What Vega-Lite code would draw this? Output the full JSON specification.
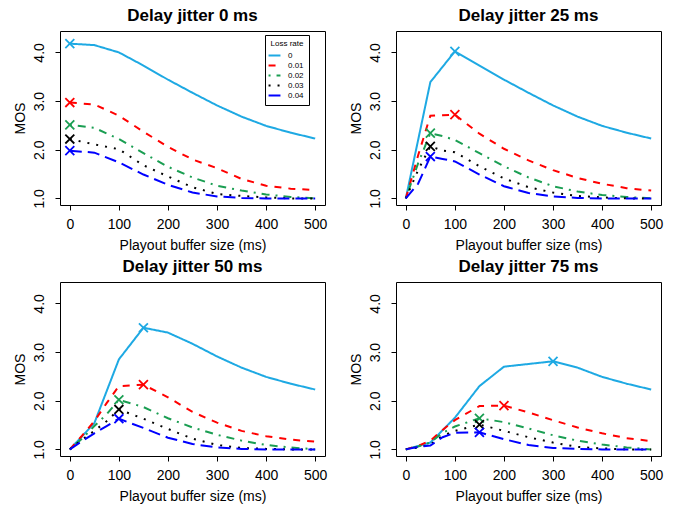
{
  "$schema": "https://vega.github.io/schema/vega-lite/v6.json",
  "padding": {"left": 12, "top": 6, "right": 5, "bottom": 5},
  "background": "white",
  "data": {"values": [
    {"j":0,"loss":"0","x":0,"mos":4.18},{"j":0,"loss":"0","x":50,"mos":4.15},{"j":0,"loss":"0","x":100,"mos":4.00},{"j":0,"loss":"0","x":150,"mos":3.73},{"j":0,"loss":"0","x":200,"mos":3.44},{"j":0,"loss":"0","x":250,"mos":3.17},{"j":0,"loss":"0","x":300,"mos":2.91},{"j":0,"loss":"0","x":350,"mos":2.68},{"j":0,"loss":"0","x":400,"mos":2.49},{"j":0,"loss":"0","x":450,"mos":2.35},{"j":0,"loss":"0","x":500,"mos":2.23},
    {"j":0,"loss":"0.01","x":0,"mos":2.97},{"j":0,"loss":"0.01","x":50,"mos":2.93},{"j":0,"loss":"0.01","x":100,"mos":2.70},{"j":0,"loss":"0.01","x":150,"mos":2.37},{"j":0,"loss":"0.01","x":200,"mos":2.06},{"j":0,"loss":"0.01","x":250,"mos":1.80},{"j":0,"loss":"0.01","x":300,"mos":1.62},{"j":0,"loss":"0.01","x":350,"mos":1.40},{"j":0,"loss":"0.01","x":400,"mos":1.26},{"j":0,"loss":"0.01","x":450,"mos":1.20},{"j":0,"loss":"0.01","x":500,"mos":1.17},
    {"j":0,"loss":"0.02","x":0,"mos":2.51},{"j":0,"loss":"0.02","x":50,"mos":2.45},{"j":0,"loss":"0.02","x":100,"mos":2.22},{"j":0,"loss":"0.02","x":150,"mos":1.93},{"j":0,"loss":"0.02","x":200,"mos":1.65},{"j":0,"loss":"0.02","x":250,"mos":1.43},{"j":0,"loss":"0.02","x":300,"mos":1.26},{"j":0,"loss":"0.02","x":350,"mos":1.16},{"j":0,"loss":"0.02","x":400,"mos":1.08},{"j":0,"loss":"0.02","x":450,"mos":1.03},{"j":0,"loss":"0.02","x":500,"mos":1.00},
    {"j":0,"loss":"0.03","x":0,"mos":2.22},{"j":0,"loss":"0.03","x":50,"mos":2.11},{"j":0,"loss":"0.03","x":100,"mos":2.01},{"j":0,"loss":"0.03","x":150,"mos":1.68},{"j":0,"loss":"0.03","x":200,"mos":1.45},{"j":0,"loss":"0.03","x":250,"mos":1.23},{"j":0,"loss":"0.03","x":300,"mos":1.09},{"j":0,"loss":"0.03","x":350,"mos":1.05},{"j":0,"loss":"0.03","x":400,"mos":1.02},{"j":0,"loss":"0.03","x":450,"mos":1.00},{"j":0,"loss":"0.03","x":500,"mos":1.00},
    {"j":0,"loss":"0.04","x":0,"mos":1.98},{"j":0,"loss":"0.04","x":50,"mos":1.94},{"j":0,"loss":"0.04","x":100,"mos":1.74},{"j":0,"loss":"0.04","x":150,"mos":1.49},{"j":0,"loss":"0.04","x":200,"mos":1.28},{"j":0,"loss":"0.04","x":250,"mos":1.12},{"j":0,"loss":"0.04","x":300,"mos":1.04},{"j":0,"loss":"0.04","x":350,"mos":1.01},{"j":0,"loss":"0.04","x":400,"mos":1.00},{"j":0,"loss":"0.04","x":450,"mos":1.00},{"j":0,"loss":"0.04","x":500,"mos":1.00},

    {"j":25,"loss":"0","x":0,"mos":1.00},{"j":25,"loss":"0","x":50,"mos":3.39},{"j":25,"loss":"0","x":100,"mos":4.02},{"j":25,"loss":"0","x":150,"mos":3.73},{"j":25,"loss":"0","x":200,"mos":3.44},{"j":25,"loss":"0","x":250,"mos":3.17},{"j":25,"loss":"0","x":300,"mos":2.91},{"j":25,"loss":"0","x":350,"mos":2.68},{"j":25,"loss":"0","x":400,"mos":2.49},{"j":25,"loss":"0","x":450,"mos":2.35},{"j":25,"loss":"0","x":500,"mos":2.23},
    {"j":25,"loss":"0.01","x":0,"mos":1.00},{"j":25,"loss":"0.01","x":25,"mos":1.88},{"j":25,"loss":"0.01","x":50,"mos":2.70},{"j":25,"loss":"0.01","x":75,"mos":2.71},{"j":25,"loss":"0.01","x":100,"mos":2.72},{"j":25,"loss":"0.01","x":150,"mos":2.33},{"j":25,"loss":"0.01","x":200,"mos":2.02},{"j":25,"loss":"0.01","x":250,"mos":1.78},{"j":25,"loss":"0.01","x":300,"mos":1.58},{"j":25,"loss":"0.01","x":350,"mos":1.42},{"j":25,"loss":"0.01","x":400,"mos":1.30},{"j":25,"loss":"0.01","x":450,"mos":1.21},{"j":25,"loss":"0.01","x":500,"mos":1.16},
    {"j":25,"loss":"0.02","x":0,"mos":1.00},{"j":25,"loss":"0.02","x":25,"mos":1.72},{"j":25,"loss":"0.02","x":50,"mos":2.34},{"j":25,"loss":"0.02","x":75,"mos":2.28},{"j":25,"loss":"0.02","x":100,"mos":2.20},{"j":25,"loss":"0.02","x":150,"mos":1.93},{"j":25,"loss":"0.02","x":200,"mos":1.66},{"j":25,"loss":"0.02","x":250,"mos":1.43},{"j":25,"loss":"0.02","x":300,"mos":1.25},{"j":25,"loss":"0.02","x":350,"mos":1.14},{"j":25,"loss":"0.02","x":400,"mos":1.07},{"j":25,"loss":"0.02","x":450,"mos":1.03},{"j":25,"loss":"0.02","x":500,"mos":1.00},
    {"j":25,"loss":"0.03","x":0,"mos":1.00},{"j":25,"loss":"0.03","x":25,"mos":1.58},{"j":25,"loss":"0.03","x":50,"mos":2.07},{"j":25,"loss":"0.03","x":75,"mos":1.98},{"j":25,"loss":"0.03","x":100,"mos":1.95},{"j":25,"loss":"0.03","x":150,"mos":1.66},{"j":25,"loss":"0.03","x":200,"mos":1.41},{"j":25,"loss":"0.03","x":250,"mos":1.23},{"j":25,"loss":"0.03","x":300,"mos":1.12},{"j":25,"loss":"0.03","x":350,"mos":1.05},{"j":25,"loss":"0.03","x":400,"mos":1.02},{"j":25,"loss":"0.03","x":450,"mos":1.00},{"j":25,"loss":"0.03","x":500,"mos":1.00},
    {"j":25,"loss":"0.04","x":0,"mos":1.00},{"j":25,"loss":"0.04","x":25,"mos":1.30},{"j":25,"loss":"0.04","x":50,"mos":1.86},{"j":25,"loss":"0.04","x":75,"mos":1.81},{"j":25,"loss":"0.04","x":100,"mos":1.76},{"j":25,"loss":"0.04","x":150,"mos":1.49},{"j":25,"loss":"0.04","x":200,"mos":1.25},{"j":25,"loss":"0.04","x":250,"mos":1.11},{"j":25,"loss":"0.04","x":300,"mos":1.04},{"j":25,"loss":"0.04","x":350,"mos":1.01},{"j":25,"loss":"0.04","x":400,"mos":1.00},{"j":25,"loss":"0.04","x":450,"mos":1.00},{"j":25,"loss":"0.04","x":500,"mos":1.00},

    {"j":50,"loss":"0","x":0,"mos":1.00},{"j":50,"loss":"0","x":50,"mos":1.54},{"j":50,"loss":"0","x":100,"mos":2.85},{"j":50,"loss":"0","x":150,"mos":3.50},{"j":50,"loss":"0","x":200,"mos":3.40},{"j":50,"loss":"0","x":250,"mos":3.17},{"j":50,"loss":"0","x":300,"mos":2.91},{"j":50,"loss":"0","x":350,"mos":2.68},{"j":50,"loss":"0","x":400,"mos":2.49},{"j":50,"loss":"0","x":450,"mos":2.35},{"j":50,"loss":"0","x":500,"mos":2.23},
    {"j":50,"loss":"0.01","x":0,"mos":1.00},{"j":50,"loss":"0.01","x":25,"mos":1.28},{"j":50,"loss":"0.01","x":50,"mos":1.58},{"j":50,"loss":"0.01","x":75,"mos":1.95},{"j":50,"loss":"0.01","x":100,"mos":2.30},{"j":50,"loss":"0.01","x":150,"mos":2.33},{"j":50,"loss":"0.01","x":200,"mos":2.07},{"j":50,"loss":"0.01","x":250,"mos":1.77},{"j":50,"loss":"0.01","x":300,"mos":1.55},{"j":50,"loss":"0.01","x":350,"mos":1.38},{"j":50,"loss":"0.01","x":400,"mos":1.27},{"j":50,"loss":"0.01","x":450,"mos":1.20},{"j":50,"loss":"0.01","x":500,"mos":1.16},
    {"j":50,"loss":"0.02","x":0,"mos":1.00},{"j":50,"loss":"0.02","x":25,"mos":1.22},{"j":50,"loss":"0.02","x":50,"mos":1.48},{"j":50,"loss":"0.02","x":75,"mos":1.72},{"j":50,"loss":"0.02","x":100,"mos":2.02},{"j":50,"loss":"0.02","x":150,"mos":1.87},{"j":50,"loss":"0.02","x":200,"mos":1.64},{"j":50,"loss":"0.02","x":250,"mos":1.45},{"j":50,"loss":"0.02","x":300,"mos":1.30},{"j":50,"loss":"0.02","x":350,"mos":1.18},{"j":50,"loss":"0.02","x":400,"mos":1.09},{"j":50,"loss":"0.02","x":450,"mos":1.04},{"j":50,"loss":"0.02","x":500,"mos":1.00},
    {"j":50,"loss":"0.03","x":0,"mos":1.00},{"j":50,"loss":"0.03","x":25,"mos":1.20},{"j":50,"loss":"0.03","x":50,"mos":1.38},{"j":50,"loss":"0.03","x":75,"mos":1.58},{"j":50,"loss":"0.03","x":100,"mos":1.82},{"j":50,"loss":"0.03","x":150,"mos":1.63},{"j":50,"loss":"0.03","x":200,"mos":1.42},{"j":50,"loss":"0.03","x":250,"mos":1.22},{"j":50,"loss":"0.03","x":300,"mos":1.09},{"j":50,"loss":"0.03","x":350,"mos":1.03},{"j":50,"loss":"0.03","x":400,"mos":1.01},{"j":50,"loss":"0.03","x":450,"mos":1.00},{"j":50,"loss":"0.03","x":500,"mos":1.00},
    {"j":50,"loss":"0.04","x":0,"mos":1.00},{"j":50,"loss":"0.04","x":25,"mos":1.17},{"j":50,"loss":"0.04","x":50,"mos":1.33},{"j":50,"loss":"0.04","x":75,"mos":1.48},{"j":50,"loss":"0.04","x":100,"mos":1.63},{"j":50,"loss":"0.04","x":150,"mos":1.44},{"j":50,"loss":"0.04","x":200,"mos":1.24},{"j":50,"loss":"0.04","x":250,"mos":1.11},{"j":50,"loss":"0.04","x":300,"mos":1.04},{"j":50,"loss":"0.04","x":350,"mos":1.01},{"j":50,"loss":"0.04","x":400,"mos":1.00},{"j":50,"loss":"0.04","x":450,"mos":1.00},{"j":50,"loss":"0.04","x":500,"mos":1.00},

    {"j":75,"loss":"0","x":0,"mos":1.00},{"j":75,"loss":"0","x":50,"mos":1.14},{"j":75,"loss":"0","x":100,"mos":1.65},{"j":75,"loss":"0","x":150,"mos":2.30},{"j":75,"loss":"0","x":200,"mos":2.70},{"j":75,"loss":"0","x":300,"mos":2.81},{"j":75,"loss":"0","x":350,"mos":2.68},{"j":75,"loss":"0","x":400,"mos":2.49},{"j":75,"loss":"0","x":450,"mos":2.35},{"j":75,"loss":"0","x":500,"mos":2.23},
    {"j":75,"loss":"0.01","x":0,"mos":1.00},{"j":75,"loss":"0.01","x":25,"mos":1.07},{"j":75,"loss":"0.01","x":50,"mos":1.18},{"j":75,"loss":"0.01","x":75,"mos":1.40},{"j":75,"loss":"0.01","x":100,"mos":1.60},{"j":75,"loss":"0.01","x":150,"mos":1.89},{"j":75,"loss":"0.01","x":200,"mos":1.90},{"j":75,"loss":"0.01","x":250,"mos":1.76},{"j":75,"loss":"0.01","x":300,"mos":1.60},{"j":75,"loss":"0.01","x":350,"mos":1.45},{"j":75,"loss":"0.01","x":400,"mos":1.33},{"j":75,"loss":"0.01","x":450,"mos":1.23},{"j":75,"loss":"0.01","x":500,"mos":1.17},
    {"j":75,"loss":"0.02","x":0,"mos":1.00},{"j":75,"loss":"0.02","x":25,"mos":1.06},{"j":75,"loss":"0.02","x":50,"mos":1.14},{"j":75,"loss":"0.02","x":75,"mos":1.34},{"j":75,"loss":"0.02","x":100,"mos":1.47},{"j":75,"loss":"0.02","x":150,"mos":1.64},{"j":75,"loss":"0.02","x":200,"mos":1.56},{"j":75,"loss":"0.02","x":250,"mos":1.43},{"j":75,"loss":"0.02","x":300,"mos":1.29},{"j":75,"loss":"0.02","x":350,"mos":1.18},{"j":75,"loss":"0.02","x":400,"mos":1.10},{"j":75,"loss":"0.02","x":450,"mos":1.04},{"j":75,"loss":"0.02","x":500,"mos":1.00},
    {"j":75,"loss":"0.03","x":0,"mos":1.00},{"j":75,"loss":"0.03","x":25,"mos":1.04},{"j":75,"loss":"0.03","x":50,"mos":1.10},{"j":75,"loss":"0.03","x":75,"mos":1.28},{"j":75,"loss":"0.03","x":100,"mos":1.38},{"j":75,"loss":"0.03","x":150,"mos":1.51},{"j":75,"loss":"0.03","x":200,"mos":1.38},{"j":75,"loss":"0.03","x":250,"mos":1.25},{"j":75,"loss":"0.03","x":300,"mos":1.14},{"j":75,"loss":"0.03","x":350,"mos":1.05},{"j":75,"loss":"0.03","x":400,"mos":1.02},{"j":75,"loss":"0.03","x":450,"mos":1.00},{"j":75,"loss":"0.03","x":500,"mos":1.00},
    {"j":75,"loss":"0.04","x":0,"mos":1.00},{"j":75,"loss":"0.04","x":25,"mos":1.05},{"j":75,"loss":"0.04","x":50,"mos":1.08},{"j":75,"loss":"0.04","x":75,"mos":1.25},{"j":75,"loss":"0.04","x":100,"mos":1.34},{"j":75,"loss":"0.04","x":150,"mos":1.35},{"j":75,"loss":"0.04","x":200,"mos":1.21},{"j":75,"loss":"0.04","x":250,"mos":1.09},{"j":75,"loss":"0.04","x":300,"mos":1.03},{"j":75,"loss":"0.04","x":350,"mos":1.01},{"j":75,"loss":"0.04","x":400,"mos":1.00},{"j":75,"loss":"0.04","x":450,"mos":1.00},{"j":75,"loss":"0.04","x":500,"mos":1.00}
  ]},
  "columns": 2,
  "spacing": {"row": 77, "column": 71},
  "bounds": "flush",
  "resolve": {"legend": {"color": "independent", "strokeDash": "independent"}},
  "concat": [
    {
      "title": "Delay jitter 0 ms",
      "width": 265, "height": 174,
      "transform": [{"filter": "datum.j == 0"}],
      "layer": [
        {"mark": {"type": "line", "strokeWidth": 2},
         "encoding": {
           "x": {"field": "x", "type": "quantitative", "scale": {"domain": [-20, 520], "nice": false, "zero": false}, "axis": {"values": [0,100,200,300,400,500], "title": "Playout buffer size (ms)"}},
           "y": {"field": "mos", "type": "quantitative", "scale": {"domain": [0.864, 4.44], "nice": false, "zero": false}, "axis": {"values": [1,1.5,2,2.5,3,3.5,4], "labelExpr": "datum.value % 1 == 0 ? format(datum.value, '.1f') : ''", "title": "MOS"}},
           "color": {"field": "loss", "type": "nominal", "scale": {"domain": ["0","0.01","0.02","0.03","0.04"], "range": ["#1EA9E3","#FF0000","#1A9E52","#000000","#0000FF"]},
             "legend": {"title": "Loss rate", "orient": "none", "legendX": 205, "legendY": 4, "symbolType": "M-1.7,0H1.7", "symbolSize": 49, "symbolStrokeWidth": 2, "labelFontSize": 8, "titleFontSize": 8, "titleFontWeight": "normal", "titleAnchor": "middle", "strokeColor": "#000", "fillColor": "#fff", "padding": 5, "labelOffset": 9, "rowPadding": 1, "titlePadding": 3}},
           "strokeDash": {"field": "loss", "type": "nominal", "scale": {"domain": ["0","0.01","0.02","0.03","0.04"], "range": [[1,0],[7,7],[2,6,8,6],[2,7],[12,6]]},
             "legend": {"title": "Loss rate", "orient": "none", "legendX": 205, "legendY": 4, "symbolType": "M-1.7,0H1.7", "symbolSize": 49, "symbolStrokeWidth": 2, "labelFontSize": 8, "titleFontSize": 8, "titleFontWeight": "normal", "titleAnchor": "middle", "strokeColor": "#000", "fillColor": "#fff", "padding": 5, "labelOffset": 9, "rowPadding": 1, "titlePadding": 3}}
         }},
        {"transform": [{"joinaggregate": [{"op": "max", "field": "mos", "as": "mx"}], "groupby": ["loss"]}, {"filter": "datum.mos == datum.mx"}],
         "mark": {"type": "point", "shape": "M-1,-1L1,1M-1,1L1,-1", "filled": false, "size": 80, "strokeWidth": 1.8, "opacity": 1},
         "encoding": {
           "x": {"field": "x", "type": "quantitative"},
           "y": {"field": "mos", "type": "quantitative"},
           "color": {"field": "loss", "type": "nominal", "legend": null}
         }}
      ]
    },
    {
      "title": "Delay jitter 25 ms",
      "width": 265, "height": 174,
      "transform": [{"filter": "datum.j == 25"}],
      "layer": [
        {"mark": {"type": "line", "strokeWidth": 2},
         "encoding": {
           "x": {"field": "x", "type": "quantitative", "scale": {"domain": [-20, 520], "nice": false, "zero": false}, "axis": {"values": [0,100,200,300,400,500], "title": "Playout buffer size (ms)"}},
           "y": {"field": "mos", "type": "quantitative", "scale": {"domain": [0.864, 4.44], "nice": false, "zero": false}, "axis": {"values": [1,1.5,2,2.5,3,3.5,4], "labelExpr": "datum.value % 1 == 0 ? format(datum.value, '.1f') : ''", "title": "MOS"}},
           "color": {"field": "loss", "type": "nominal", "scale": {"domain": ["0","0.01","0.02","0.03","0.04"], "range": ["#1EA9E3","#FF0000","#1A9E52","#000000","#0000FF"]}, "legend": null},
           "strokeDash": {"field": "loss", "type": "nominal", "scale": {"domain": ["0","0.01","0.02","0.03","0.04"], "range": [[1,0],[7,7],[2,6,8,6],[2,7],[12,6]]}, "legend": null}
         }},
        {"transform": [{"joinaggregate": [{"op": "max", "field": "mos", "as": "mx"}], "groupby": ["loss"]}, {"filter": "datum.mos == datum.mx"}],
         "mark": {"type": "point", "shape": "M-1,-1L1,1M-1,1L1,-1", "filled": false, "size": 80, "strokeWidth": 1.8, "opacity": 1},
         "encoding": {
           "x": {"field": "x", "type": "quantitative"},
           "y": {"field": "mos", "type": "quantitative"},
           "color": {"field": "loss", "type": "nominal", "legend": null}
         }}
      ]
    },
    {
      "title": "Delay jitter 50 ms",
      "width": 265, "height": 174,
      "transform": [{"filter": "datum.j == 50"}],
      "layer": [
        {"mark": {"type": "line", "strokeWidth": 2},
         "encoding": {
           "x": {"field": "x", "type": "quantitative", "scale": {"domain": [-20, 520], "nice": false, "zero": false}, "axis": {"values": [0,100,200,300,400,500], "title": "Playout buffer size (ms)"}},
           "y": {"field": "mos", "type": "quantitative", "scale": {"domain": [0.864, 4.44], "nice": false, "zero": false}, "axis": {"values": [1,1.5,2,2.5,3,3.5,4], "labelExpr": "datum.value % 1 == 0 ? format(datum.value, '.1f') : ''", "title": "MOS"}},
           "color": {"field": "loss", "type": "nominal", "scale": {"domain": ["0","0.01","0.02","0.03","0.04"], "range": ["#1EA9E3","#FF0000","#1A9E52","#000000","#0000FF"]}, "legend": null},
           "strokeDash": {"field": "loss", "type": "nominal", "scale": {"domain": ["0","0.01","0.02","0.03","0.04"], "range": [[1,0],[7,7],[2,6,8,6],[2,7],[12,6]]}, "legend": null}
         }},
        {"transform": [{"joinaggregate": [{"op": "max", "field": "mos", "as": "mx"}], "groupby": ["loss"]}, {"filter": "datum.mos == datum.mx"}],
         "mark": {"type": "point", "shape": "M-1,-1L1,1M-1,1L1,-1", "filled": false, "size": 80, "strokeWidth": 1.8, "opacity": 1},
         "encoding": {
           "x": {"field": "x", "type": "quantitative"},
           "y": {"field": "mos", "type": "quantitative"},
           "color": {"field": "loss", "type": "nominal", "legend": null}
         }}
      ]
    },
    {
      "title": "Delay jitter 75 ms",
      "width": 265, "height": 174,
      "transform": [{"filter": "datum.j == 75"}],
      "layer": [
        {"mark": {"type": "line", "strokeWidth": 2},
         "encoding": {
           "x": {"field": "x", "type": "quantitative", "scale": {"domain": [-20, 520], "nice": false, "zero": false}, "axis": {"values": [0,100,200,300,400,500], "title": "Playout buffer size (ms)"}},
           "y": {"field": "mos", "type": "quantitative", "scale": {"domain": [0.864, 4.44], "nice": false, "zero": false}, "axis": {"values": [1,1.5,2,2.5,3,3.5,4], "labelExpr": "datum.value % 1 == 0 ? format(datum.value, '.1f') : ''", "title": "MOS"}},
           "color": {"field": "loss", "type": "nominal", "scale": {"domain": ["0","0.01","0.02","0.03","0.04"], "range": ["#1EA9E3","#FF0000","#1A9E52","#000000","#0000FF"]}, "legend": null},
           "strokeDash": {"field": "loss", "type": "nominal", "scale": {"domain": ["0","0.01","0.02","0.03","0.04"], "range": [[1,0],[7,7],[2,6,8,6],[2,7],[12,6]]}, "legend": null}
         }},
        {"transform": [{"joinaggregate": [{"op": "max", "field": "mos", "as": "mx"}], "groupby": ["loss"]}, {"filter": "datum.mos == datum.mx"}],
         "mark": {"type": "point", "shape": "M-1,-1L1,1M-1,1L1,-1", "filled": false, "size": 80, "strokeWidth": 1.8, "opacity": 1},
         "encoding": {
           "x": {"field": "x", "type": "quantitative"},
           "y": {"field": "mos", "type": "quantitative"},
           "color": {"field": "loss", "type": "nominal", "legend": null}
         }}
      ]
    }
  ],
  "config": {
    "font": "Liberation Sans",
    "view": {"stroke": "#000", "strokeWidth": 1},
    "axis": {"grid": false, "domain": false, "tickColor": "#000", "tickSize": 5, "labelFontSize": 14, "titleFontSize": 14, "labelColor": "#000", "titleColor": "#000", "titleFontWeight": "normal"},
    "axisX": {"labelPadding": 7, "titlePadding": 7},
    "axisY": {"labelAngle": -90, "labelAlign": "center", "labelBaseline": "bottom", "labelPadding": 9, "titlePadding": 5},
    "title": {"fontSize": 17, "fontWeight": "bold", "color": "#000", "offset": 6}
  }
}
